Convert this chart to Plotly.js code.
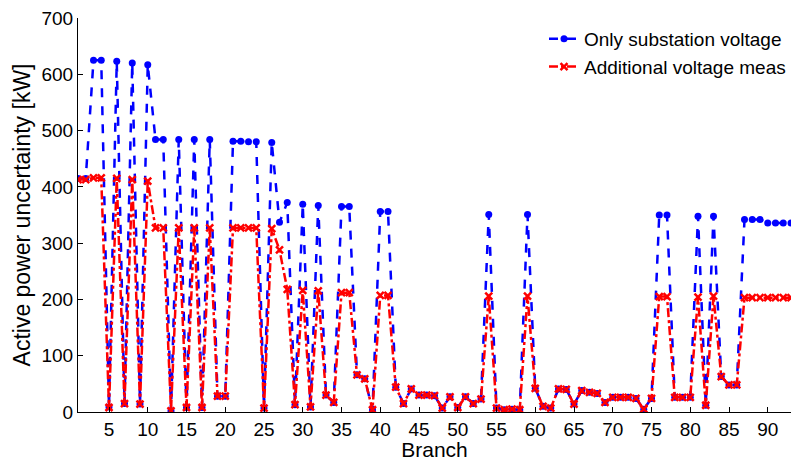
<!DOCTYPE html>
<html>
<head>
<meta charset="utf-8">
<script src="https://cdn.plot.ly/plotly-3.0.1.min.js"></script>
<style>html,body{margin:0;padding:0;background:#fff;}#chart{width:792px;height:461px;}</style>
</head>
<body>
<div id="chart"></div>
<script>
const branch = [];
for (let i = 1; i <= 93; i++) branch.push(i);

const onlySubstation = [
  415, 415, 625, 625, 9, 623, 15, 620, 14, 617,
  484, 484, 2, 484, 8, 484, 8, 484, 28, 28,
  481, 481, 480, 480, 7, 479, 337, 372, 13, 369,
  9, 367, 30, 17, 365, 365, 66, 59, 4, 356,
  356, 44, 15, 41, 30, 30, 29, 7, 27, 8,
  27, 15, 23, 351, 7, 4, 5, 4, 351, 42,
  10, 7, 41, 40, 14, 38, 35, 33, 17, 26,
  26, 26, 24, 5, 24, 350, 350, 26, 26, 26,
  348, 12, 348, 63, 48, 48, 342, 342, 342, 336,
  336, 336, 336
];

const additionalMeas = [
  413, 413, 416, 416, 8, 415, 15, 413, 14, 410,
  327, 327, 2, 327, 8, 327, 8, 327, 28, 28,
  327, 327, 327, 327, 7, 326, 288, 218, 13, 216,
  9, 215, 30, 17, 212, 212, 66, 59, 4, 207,
  207, 44, 15, 41, 30, 30, 29, 7, 27, 8,
  27, 15, 23, 206, 7, 4, 5, 4, 206, 42,
  10, 7, 41, 40, 14, 38, 35, 33, 17, 26,
  26, 26, 24, 5, 24, 205, 205, 26, 26, 26,
  204, 12, 206, 63, 48, 48, 203, 203, 203, 203,
  203, 203, 203
];

const xTicks = [5, 10, 15, 20, 25, 30, 35, 40, 45, 50, 55, 60, 65, 70, 75, 80, 85, 90];

const traces = [
  {
    x: branch, y: onlySubstation, name: 'Only substation voltage',
    type: 'scatter', mode: 'lines+markers',
    line: {color: '#0000ff', width: 2.5, dash: 'dash'},
    marker: {color: '#0000ff', size: 7, symbol: 'circle'}
  },
  {
    x: branch, y: additionalMeas, name: 'Additional voltage meas',
    type: 'scatter', mode: 'lines+markers',
    line: {color: '#ff0000', width: 2.5, dash: 'dashdot'},
    marker: {color: '#ff0000', size: 7, symbol: 'x-thin', line: {color: '#ff0000', width: 2.5}}
  }
];

const layout = {
  width: 792, height: 461,
  margin: {l: 78, r: 1, t: 18, b: 49},
  paper_bgcolor: '#ffffff', plot_bgcolor: '#ffffff',
  font: {family: 'Liberation Sans, Arial, sans-serif', size: 19, color: '#000'},
  showlegend: true,
  legend: {
    x: 1.0, y: 0.995, xanchor: 'right', yanchor: 'top',
    bgcolor: 'rgba(255,255,255,0)', borderwidth: 0,
    font: {size: 19}, itemwidth: 30, tracegroupgap: 0
  },
  xaxis: {
    range: [1, 93], tickvals: xTicks, ticktext: xTicks.map(String),
    showgrid: false, zeroline: false, showline: true, linecolor: '#000', linewidth: 1,
    ticks: 'inside', ticklen: 5, tickcolor: '#000',
    title: {text: 'Branch', font: {size: 21}, standoff: 3}
  },
  yaxis: {
    range: [0, 700], dtick: 100,
    showgrid: false, zeroline: false, showline: true, linecolor: '#000', linewidth: 1,
    ticks: 'inside', ticklen: 5, tickcolor: '#000',
    title: {text: 'Active power uncertainty [kW]', font: {size: 23}, standoff: 4}
  }
};

Plotly.newPlot('chart', traces, layout, {staticPlot: true, displayModeBar: false});
</script>
</body>
</html>
